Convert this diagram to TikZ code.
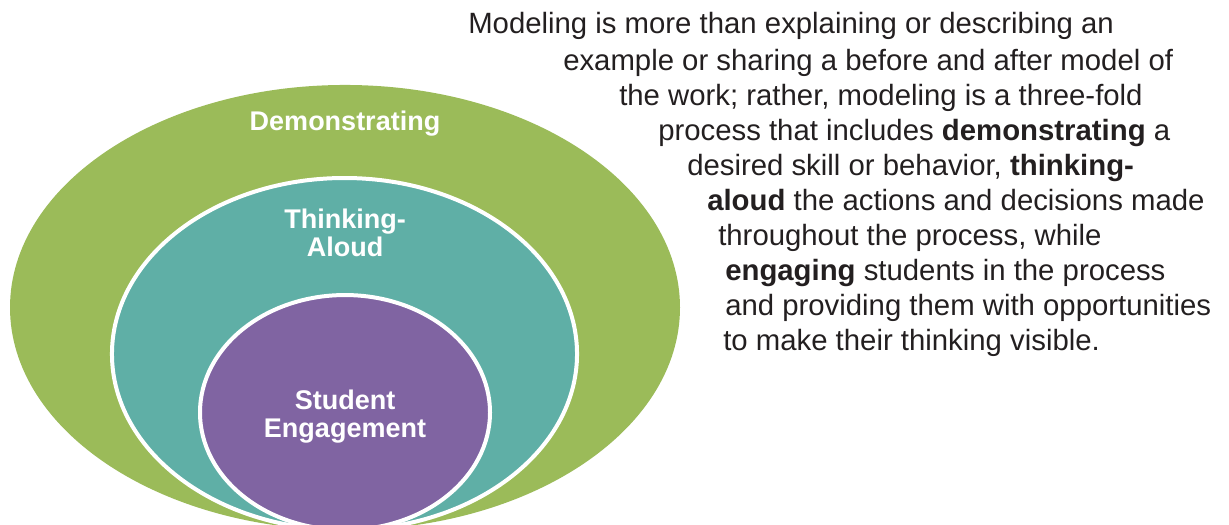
\documentclass[tikz,border=0pt]{standalone}
\usepackage{fontspec}
\setmainfont{Liberation Sans}
\definecolor{dgreen}{HTML}{9BBB59}
\definecolor{dteal}{HTML}{5FAFA6}
\definecolor{dpurple}{HTML}{8064A2}
\definecolor{dtext}{HTML}{231F20}
\begin{document}
\begin{tikzpicture}[x=0.75pt,y=-0.75pt,
  ring/.style={draw=white,line width=3pt},
  lbl/.style={text=white,font=\fontsize{20.25}{21}\selectfont\bfseries,align=center,inner sep=0pt,anchor=base},
  para/.style={text=dtext,font=\fontsize{22}{26}\selectfont,inner sep=0pt,anchor=base west}]
\useasboundingbox (0,0) rectangle (1229,525);
\begin{scope}
\clip (0,0) rectangle (1229,525);
\fill[dgreen] (345,307.5) ellipse [x radius=251.25pt, y radius=166.9pt];
\filldraw[fill=dteal,ring] (344.5,354) ellipse [x radius=174.4pt, y radius=132pt];
\filldraw[fill=dpurple,ring] (345,412.5) ellipse [x radius=108.75pt, y radius=88.1pt];
\end{scope}
\node[lbl] (demo) at (345,130) {Demonstrating};
\node[lbl] (think) at (345,256) {Thinking-\\Aloud};
\node[lbl] (stud) at (345,437) {Student\\Engagement};
\node[para] (l1) at (468,33) {Modeling is more than explaining or describing an};
\node[para] (l2) at (563,70) {example or sharing a before and after model of};
\node[para] (l3) at (619,105) {the work; rather, modeling is a three-fold};
\node[para] (l4) at (658,140) {process that includes \textbf{demonstrating} a};
\node[para] (l5) at (687,175) {desired skill or behavior, \textbf{thinking-}};
\node[para] (l6) at (707,210) {\textbf{aloud} the actions and decisions made};
\node[para] (l7) at (718,245) {throughout the process, while};
\node[para] (l8) at (725,280) {\textbf{engaging} students in the process};
\node[para] (l9) at (725,315) {and providing them with opportunities};
\node[para] (l10) at (723,350) {to make their thinking visible.};
\end{tikzpicture}
\end{document}
